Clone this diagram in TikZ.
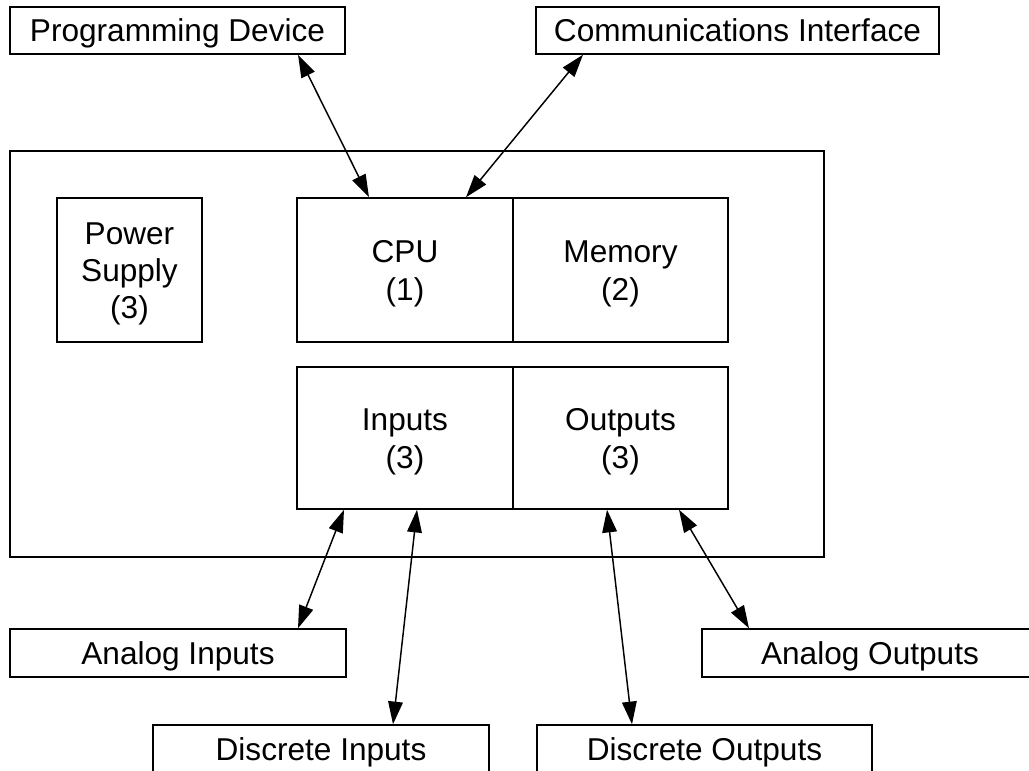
\documentclass[tikz,border=0pt]{standalone}
\usepackage{fontspec}
\setmainfont{Liberation Sans}
\usetikzlibrary{arrows.meta,calc}
\newcommand{\lift}{\rule{0pt}{22pt}}
\begin{document}
\begin{tikzpicture}[x=0.75pt,y=-0.75pt,
  box/.style={draw,line width=1.1pt,inner sep=0pt,font=\fontsize{23.7}{28}\selectfont,align=center},
  onebox/.style={box,text height=17pt,text depth=0pt},
  conn/.style={line width=1.1pt,{Triangle[length=17pt,width=11pt]}-{Triangle[length=17pt,width=11pt]}}]
\useasboundingbox (0,0) rectangle (1029,771);
% top boxes
\node[onebox,minimum width=251.25pt,minimum height=35.25pt] (pd) at (177.5,30.5) {Programming Device};
\node[onebox,minimum width=302.25pt,minimum height=35.25pt] (comm) at (737.5,30.5) {Communications Interface};
% main enclosure
\node[box,minimum width=610.5pt,minimum height=304.5pt] (main) at (417,354) {};
% inner boxes
\node[box,minimum width=108.75pt,minimum height=108pt] (power) at (129.5,270) {\lift Power\\Supply\\(3)};
\node[box,minimum width=162pt,minimum height=108pt] (cpu) at (405,270) {\lift CPU\\(1)};
\node[box,minimum width=161.25pt,minimum height=108pt] (mem) at (620.5,270) {\lift Memory\\(2)};
\node[box,minimum width=162pt,minimum height=106.5pt] (in) at (405,438) {\lift Inputs\\(3)};
\node[box,minimum width=161.25pt,minimum height=106.5pt] (out) at (620.5,438) {\lift Outputs\\(3)};
% bottom boxes
\node[onebox,minimum width=252pt,minimum height=36pt] (ai) at (178,653) {Analog Inputs};
\node[onebox,minimum width=252pt,minimum height=36pt] (ao) at (870,653) {Analog Outputs};
\node[onebox,minimum width=252pt,minimum height=36pt] (di) at (321,749) {Discrete Inputs};
\node[onebox,minimum width=251.25pt,minimum height=36pt] (do) at (704.5,749) {Discrete Outputs};
% connectors
\draw[conn] ($(pd.south)+(120.5,0)$) -- ($(cpu.north)+(-36,0)$);
\draw[conn] ($(comm.south)+(-154.5,0)$) -- ($(cpu.north)+(61,0)$);
\draw[conn] ($(in.south)+(-61,0)$) -- ($(ai.north)+(120,0)$);
\draw[conn] ($(in.south)+(12,0)$) -- ($(di.north)+(72,0)$);
\draw[conn] ($(out.south)+(-13.5,0)$) -- ($(do.north)+(-72.5,0)$);
\draw[conn] ($(out.south)+(58.5,0)$) -- ($(ao.north)+(-121,0)$);
\end{tikzpicture}
\end{document}
